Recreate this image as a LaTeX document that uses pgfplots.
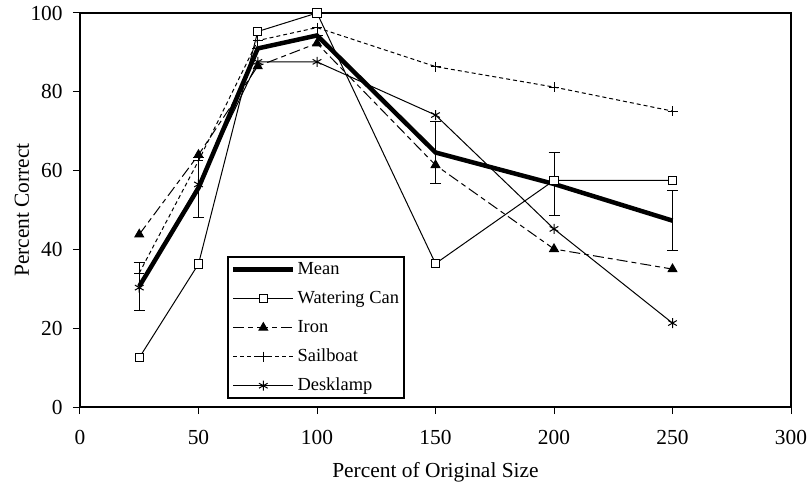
\documentclass[border=0pt]{standalone}
\usepackage{fontspec}
\setmainfont{Liberation Serif}
\usepackage{pgfplots}
\pgfplotsset{compat=1.18}
\begin{document}
\fontsize{21.5}{25}\selectfont
\begin{tikzpicture}
\useasboundingbox (-80bp,-79bp) rectangle (728bp,407bp);
\pgfplotsset{
  meanstyle/.style={black, line width=4.5bp, mark=none},
  wcstyle/.style={black, line width=1bp, solid, mark=square*, mark size=4.2bp, mark options={solid, fill=white, line width=1bp}},
  ironstyle/.style={black, line width=1bp, dash pattern=on 11bp off 4bp on 5bp off 4bp, mark=triangle*, mark size=5bp, mark options={solid, fill=black}},
  sailstyle/.style={black, line width=1bp, dash pattern=on 4bp off 3bp, mark=+, mark size=5bp, mark options={solid, line width=1bp}},
  lampstyle/.style={black, line width=1bp, solid, mark=asterisk, mark size=5bp, mark options={solid, line width=1bp}},
}
\begin{axis}[
  at={(0,0)}, anchor=south west,
  scale only axis, width=711bp, height=394bp,
  xmin=0, xmax=300, ymin=0, ymax=100,
  xtick={0,50,...,300}, ytick={0,20,...,100},
  tick align=outside, tick pos=left,
  major tick length=7bp,
  axis line style={line width=1.3bp},
  tick style={black, line width=1bp},
  /pgf/number format/assume math mode=true,
  xticklabel style={yshift=-9bp},
  yticklabel style={xshift=-3bp},
  xlabel={Percent of Original Size},
  ylabel={Percent Correct},
  xlabel style={at={(axis description cs:0.5,-0.165)}, anchor=center},
  ylabel style={at={(axis description cs:-0.0816,0.5)}, anchor=center},
  legend image code/.code={\draw[mark repeat=2,mark phase=2] plot coordinates {(0bp,0bp) (30bp,0bp) (60bp,0bp)};},
  legend cell align=left,
  legend style={at={(rel axis cs:0.207,0.02)}, anchor=south west,
    draw=black, line width=1.8bp, inner xsep=3bp, inner ysep=2bp,
    font=\fontsize{18.5}{20}\selectfont,
    nodes={inner sep=2bp, text height=13bp, text depth=4bp},
    row sep=8bp},
]
\addlegendimage{meanstyle}
\addlegendentry{Mean}
\addplot[wcstyle] coordinates {(25,12.5) (50,36.3) (75,95.3) (100,100) (150,36.4) (200,57.5) (250,57.5)};
\addlegendentry{Watering Can}
\addplot[ironstyle] coordinates {(25,43.8) (50,64) (75,86.5) (100,92.3) (150,61.4) (200,40.1) (250,35)};
\addlegendentry{Iron}
\addplot[sailstyle] coordinates {(25,34) (50,62.5) (75,93) (100,96.3) (150,86.4) (200,81.2) (250,75.1)};
\addlegendentry{Sailboat}
\addplot[lampstyle] coordinates {(25,30.3) (50,56.5) (75,87.6) (100,87.6) (150,74.1) (200,45.2) (250,21.3)};
\addlegendentry{Desklamp}
\addplot[meanstyle, forget plot,
  error bars/.cd, y dir=both, y explicit,
  error bar style={line width=1bp, solid},
  error mark options={rotate=90, mark size=5.5bp, line width=1bp}]
  table[x=x, y=y, y error=e] {
x y e
25 30.6 6.1
50 55.6 7.6
75 91.0 0
100 94.3 0
150 64.6 7.9
200 56.6 8.0
250 47.3 7.6
};
\end{axis}
\end{tikzpicture}
\end{document}
